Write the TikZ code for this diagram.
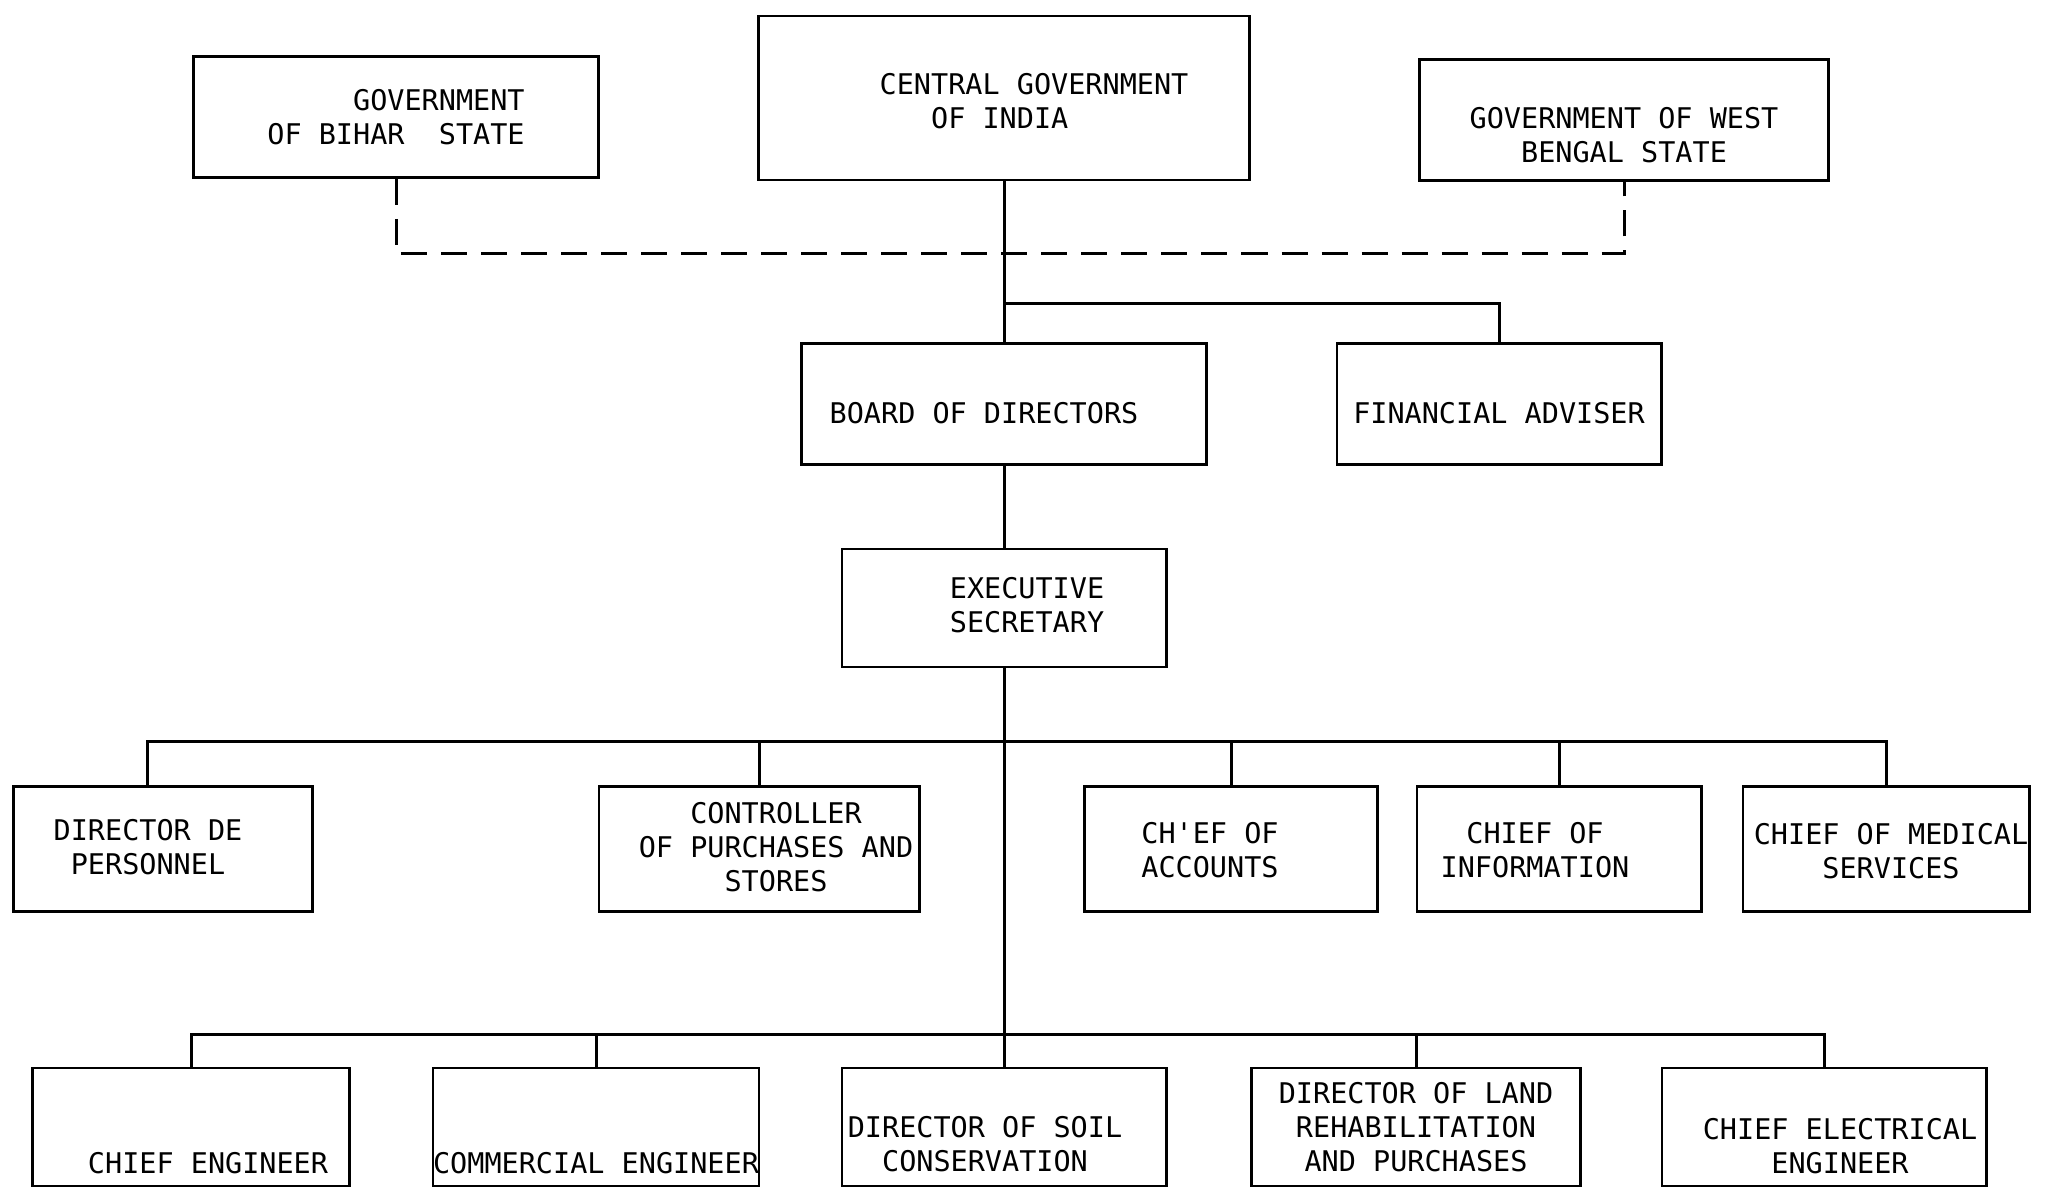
\documentclass[tikz,border=0pt]{standalone}
\usepackage{fontspec}
\newfontfamily\chartfont{DejaVu Sans Mono}
\usetikzlibrary{positioning}
\newcommand{\moved}[4][c]{\raisebox{#3}[\height][\depth]{\hspace*{#2}\begin{tabular}{@{}#1@{}}#4\end{tabular}\hspace*{-#2}}}
\tikzset{
	unit/.style={draw, line width=0.28mm, inner sep=0pt, align=center, font=\chartfont\fontsize{8.1}{9.7}\selectfont},
	link/.style={line width=0.3mm},
	statelink/.style={line width=0.3mm, dash pattern=on 2.6mm off 1.4mm}
}

\begin{document}
\begin{tikzpicture}[x=0.01cm, y=-0.01cm]
			%%%%% START %%%%%
			\useasboundingbox (0, 0) rectangle (2055, 1189);
			
			\node[unit, minimum width=4.04cm, minimum height=1.21cm, align=right] (bihar) at (396, 117) {GOVERNMENT\\OF BIHAR\ \ STATE};
			\node[unit, minimum width=4.90cm, minimum height=1.64cm] (central) at (1004, 98) {\moved[l]{0.30cm}{-0.07cm}{CENTRAL GOVERNMENT\\\ \ \ OF INDIA}};
			\node[unit, minimum width=4.09cm, minimum height=1.21cm] (wb) at (1624, 120) {\moved{0cm}{-0.19cm}{GOVERNMENT OF WEST\\BENGAL STATE}};
			
			\node[unit, minimum width=4.04cm, minimum height=1.21cm] (board) at (1004, 404) {\moved{-0.20cm}{-0.13cm}{BOARD OF DIRECTORS}};
			\node[unit, minimum width=3.24cm, minimum height=1.21cm] (fin) at (1499, 404) {\moved{0cm}{-0.13cm}{FINANCIAL ADVISER}};
			\node[unit, minimum width=3.24cm, minimum height=1.18cm] (exec) at (1004, 608) {\moved[l]{0.23cm}{-0.01cm}{EXECUTIVE\\SECRETARY}};
			
			\node[unit, minimum width=2.99cm, minimum height=1.25cm] (dp) at (163, 849) {\moved{-0.15cm}{-0.02cm}{DIRECTOR DE\\PERSONNEL}};
			\node[unit, minimum width=3.20cm, minimum height=1.25cm] (ctrl) at (759, 849) {\moved{0.17cm}{-0.02cm}{CONTROLLER\\OF PURCHASES AND\\STORES}};
			\node[unit, minimum width=2.93cm, minimum height=1.25cm] (acc) at (1231, 849) {\moved{-0.21cm}{-0.05cm}{CH'EF OF\\ACCOUNTS}};
			\node[unit, minimum width=2.84cm, minimum height=1.25cm] (info) at (1559, 849) {\moved{-0.24cm}{-0.05cm}{CHIEF OF\\INFORMATION}};
			\node[unit, minimum width=2.86cm, minimum height=1.25cm] (med) at (1886, 849) {\moved{0.05cm}{-0.06cm}{CHIEF OF MEDICAL\\SERVICES}};
			
			\node[unit, minimum width=3.17cm, minimum height=1.18cm] (ce) at (191, 1127) {\moved{0.17cm}{-0.40cm}{CHIEF ENGINEER}};
			\node[unit, minimum width=3.23cm, minimum height=1.18cm] (comm) at (596, 1127) {\moved{0cm}{-0.40cm}{COMMERCIAL ENGINEER}};
			\node[unit, minimum width=3.24cm, minimum height=1.18cm] (soil) at (1004, 1127) {\moved{-0.19cm}{-0.21cm}{DIRECTOR OF SOIL\\CONSERVATION}};
			\node[unit, minimum width=3.29cm, minimum height=1.18cm] (land) at (1416, 1127) {DIRECTOR OF LAND\\REHABILITATION\\AND PURCHASES};
			\node[unit, minimum width=3.24cm, minimum height=1.18cm] (elec) at (1824, 1127) {\moved{0.16cm}{-0.23cm}{CHIEF ELECTRICAL\\ENGINEER}};
			
			\coordinate (statebus) at (0, 254);
			\coordinate (finbus) at (0, 304);
			\coordinate (midbus) at (0, 742);
			\coordinate (lowbus) at (0, 1034);
			
			\draw[statelink] (bihar.south) -- (bihar.south |- statebus) -| (wb.south);
			\draw[link] (central.south) -- (board.north);
			\draw[link] (central.south |- finbus) -| (fin.north);
			\draw[link] (board.south) -- (exec.north);
			\draw[link] (exec.south) -- (soil.north);
			
			\draw[link] ([xshift=-0.15cm]dp.north) -- ([xshift=-0.15cm]dp.north |- midbus) -| (med.north);
			\foreach \unit in {ctrl, acc, info}
				\draw[link] (\unit.north) -- (\unit.north |- midbus);
			
			\draw[link] (ce.north) -- (ce.north |- lowbus) -| (elec.north);
			\foreach \unit in {comm, land}
				\draw[link] (\unit.north) -- (\unit.north |- lowbus);
			
			%%%%% END %%%%%
\end{tikzpicture}
\end{document}
